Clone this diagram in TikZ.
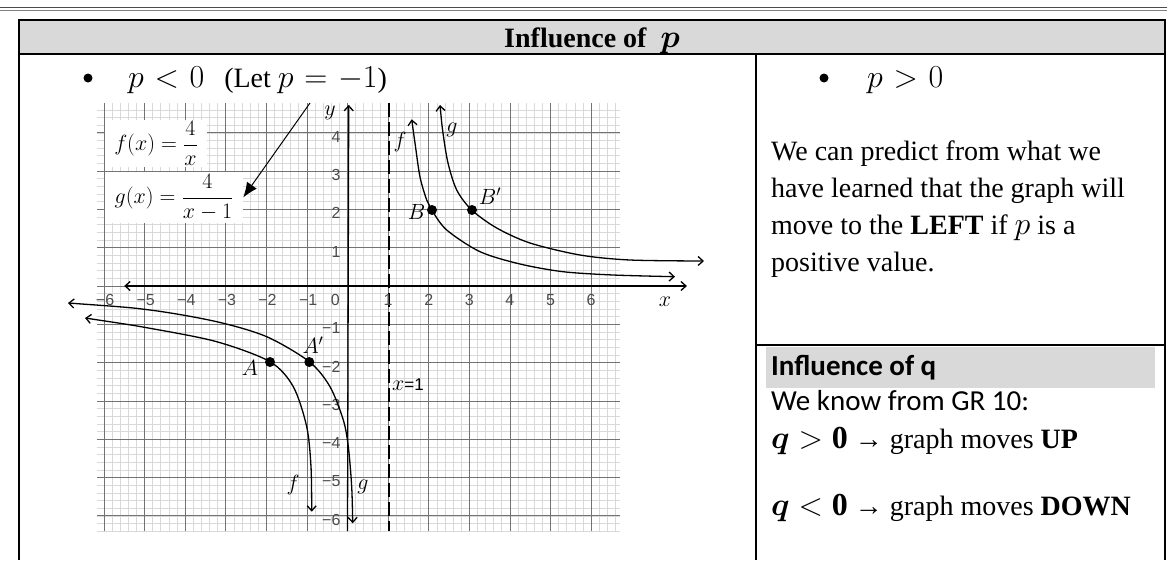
\RequirePackage{fix-cm}
\documentclass[tikz,border=0pt]{standalone}
\usepackage{amsmath,bm}
\usepackage{fontspec}
\setmainfont{Liberation Serif}
\newfontfamily\tickfont{Liberation Sans}
\newfontfamily\califont{Carlito}
\usetikzlibrary{arrows.meta,positioning}

\tikzset{bb/.tip={Straight Barb[length=5pt,width=9pt]}}
\newcommand\pmath[1]{{\fontsize{32}{37}\selectfont$#1$}}

\begin{document}
\begin{tikzpicture}[x=1pt,y=-1pt,
    rule/.style={line width=2.3pt},
    inrule/.style={line width=1.7pt},
    body/.style={font=\fontsize{28}{37}\selectfont, inner sep=0pt},
    wide/.style={body, execute at begin node={\thickmuskip=6mu}},
    head/.style={font=\fontsize{28}{37}\selectfont\bfseries, inner sep=0pt},
    cali/.style={font=\califont\fontsize{29}{35}\selectfont, inner sep=0pt},
    calibold/.style={font=\califont\bfseries\fontsize{29}{35}\selectfont, inner sep=0pt},
    tick/.style={font=\tickfont\fontsize{16}{18}\selectfont, text=black!70, inner sep=0pt},
    lbl/.style={font=\fontsize{22}{24}\selectfont, inner sep=0pt},
    minor/.style={gray!30, line width=0.6pt},
    major/.style={black!55, line width=0.8pt},
    axis/.style={line width=1.3pt},
    curve/.style={line width=1.3pt, bb-bb},
    dot/.style={circle, fill=black, minimum size=10pt, inner sep=0pt},
    bullet/.style={circle, fill=black, minimum size=9pt, inner sep=0pt},
    labbox/.style={lbl, fill=white, inner sep=0pt}]

    \useasboundingbox (0,0) rectangle (1167,560);

    % top rule
    \draw[line width=1.6pt, black!70] (0,7.5) -- (1167,7.5);
    \draw[line width=0.8pt, gray] (0,10) -- (1167,10);

    % table frame
    \filldraw[fill=black!15, rule] (19,20) rectangle (1165,54);
    \draw[rule] (19,54) -- (19,560);
    \draw[rule] (1165,54) -- (1165,560);
    \draw[inrule] (756,54) -- (756,560);
    \draw[rule] (756,345) -- (1165,345);
    \fill[black!15] (766,347) rectangle (1155,388);

    \node[head, anchor=base] (title) at (592,47) {Influence of \ \pmath{\bm{p}}};

    % left column
    \node[bullet] (bulL) at (88,78) {};
    \node[wide, anchor=base west] (pneg) at (128,87) {\pmath{p<0}\hspace{20pt}(Let \pmath{p=-1})};

    % right column
    \node[bullet] (bulR) at (824,78) {};
    \node[wide, anchor=base west] (ppos) at (867,87) {\pmath{p>0}};
    \node[body, anchor=north west, align=left] (pred) at (771,141)
        {We can predict from what we\\have learned that the graph will\\move to the \textbf{LEFT} if \pmath{p} is a\\positive value.};

    \node[calibold, anchor=base west] (qhead) at (771,375) {Influence of q};
    \node[cali, anchor=base west] (gr10) at (771,410) {We know from GR 10:};
    \node[body, anchor=base west] (qup) at (771,448)
        {\pmath{\bm{q}>\mathbf{0}} → graph moves \textbf{UP}};
    \node[body, anchor=base west] (qdown) at (771,515)
        {\pmath{\bm{q}<\mathbf{0}} → graph moves \textbf{DOWN}};

    % graph paper
    \begin{scope}[shift={(347.5pt,-286pt)}, x=40.6pt, y=38.3pt]
        \foreach \i in {-30,...,33}
            \draw[minor] (\i/5,-6.4) -- (\i/5,4.78);
        \foreach \j in {-32,...,23}
            \draw[minor] (-6.17,\j/5) -- (6.71,\j/5);
        \foreach \i in {-6,...,6}
            \draw[major] (\i,-6.4) -- (\i,4.78);
        \foreach \j in {-6,...,4}
            \draw[major] (-6.17,\j) -- (6.71,\j);

        % axes
        \draw[axis, bb-bb] (-5.5,0) -- (8.36,0);
        \draw[axis, -bb] (0,-6.4) -- (0.03,4.73);
        \draw[line width=2pt, dash pattern=on 14pt off 5pt] (1.02,4.78) -- (1.02,-6.4);

        \foreach \i in {1,...,6} {
            \node[tick] (xm\i) at (-\i+0.03,-0.37) {−\i};
            \node[tick] (xp\i) at (\i,-0.37) {\i};
        }
        \node[tick] (x0) at (-0.3,-0.37) {0};
        \foreach \j in {1,...,4}
            \node[tick, anchor=east] (yp\j) at (-0.17,\j-0.1) {\j};
        \foreach \j in {1,...,6}
            \node[tick, anchor=east] (ym\j) at (-0.17,-\j-0.1) {−\j};
    \end{scope}

    % formula labels
    \node[labbox, minimum width=102pt, minimum height=47pt] (flab) at (156,143.5) {$\displaystyle f(x)=\frac{4}{x}$};
    \node[labbox, minimum width=138pt, minimum height=51pt] (glab) at (174,197.5) {$\displaystyle g(x)=\frac{4}{x-1}$};
    \coordinate (ptr) at (310,103);
    \draw[line width=1pt, -{Latex[length=15pt,width=12pt]}] (ptr) -- (glab.east);

    % curves
    \draw[curve] plot[smooth] coordinates {(411.7,119.3) (415,143) (420,177) (426.7,200) (431.7,210)
        (446.7,230) (480,251.7) (520,264) (563,271.7) (613,275) (675,276.7)};
    \draw[curve] plot[smooth] coordinates {(440,105) (443,133) (448,163) (456.7,190) (471.7,210)
        (496.7,228) (530,243) (580,255) (630,260) (704,261)};
    \draw[curve] plot[smooth] coordinates {(68,303) (150,310) (216.7,321.7) (266.7,336.7) (309.3,361.7)
        (330,386.7) (343.3,420) (348.3,446.7) (351.7,486.7) (352.7,523.3)};
    \draw[curve] plot[smooth] coordinates {(85,318) (150,328.3) (216.7,341.7) (270,361.7)
        (293.3,386.7) (306.7,426.7) (311,466.7) (311.7,511.7)};

    \node[dot] (A) at (270,362) {};
    \node[dot] (Ap) at (309.3,362) {};
    \node[dot] (B) at (432,210) {};
    \node[dot] (Bp) at (472,210) {};

    \node[lbl] (Alab) at (250,368) {$A$};
    \node[lbl] (Aplab) at (313,345) {$A'$};
    \node[lbl] (Blab) at (416.7,211.7) {$B$};
    \node[lbl] (Bplab) at (490,196.7) {$B'$};
    \node[lbl] (fR) at (400,142) {$f$};
    \node[lbl] (gR) at (452,130) {$g$};
    \node[lbl] (fL) at (293,485) {$f$};
    \node[lbl] (gL) at (363,487) {$g$};
    \node[lbl] (xlab) at (665,302) {$x$};
    \node[lbl] (ylab) at (330,113) {$y$};
    \node[lbl, anchor=west] (asym) at (392,385) {$x${\tickfont\fontsize{17}{18}\selectfont =1}};
\end{tikzpicture}
\end{document}
